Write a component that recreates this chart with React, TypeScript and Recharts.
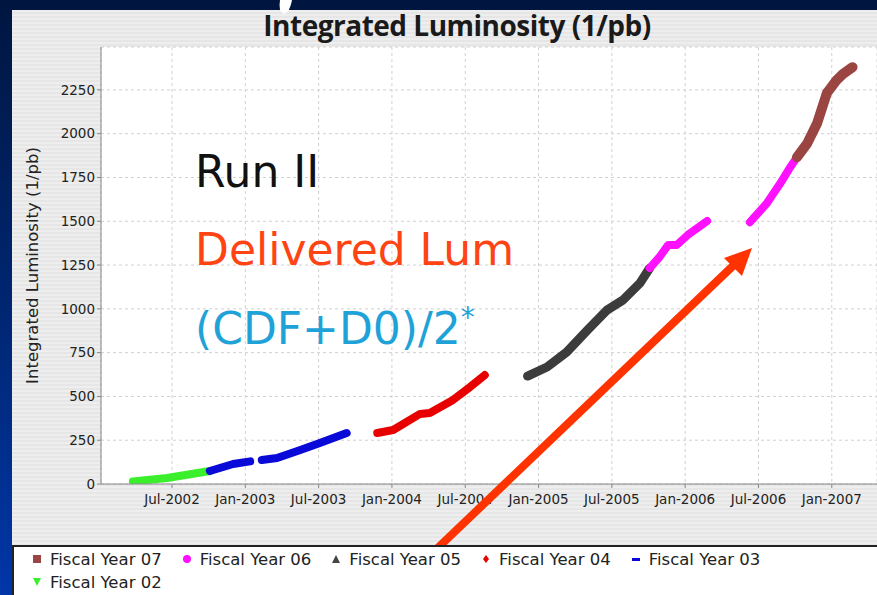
import React from "react";
import { LineChart, Line, XAxis, YAxis, CartesianGrid } from "recharts";

// months counted from Jan-2002 (0 = Jan 1 2002)
const fy02Months = [2.8, 5.6, 9.1];
const fy02Lum = [15, 34, 74];
const fy03Months = [9.1, 11.0, 12.4, 12.85, 13.35, 14.6, 16.5, 18.1, 20.3];
const fy03Lum = [74, 114, 129, null, 137, 148, 194, 234, 291];
const fy04Months = [22.8, 24.1, 26.3, 27.1, 29.0, 30.4, 31.6];
const fy04Lum = [291, 308, 400, 405, 480, 554, 622];
const fy05Months = [35.1, 36.7, 38.3, 40.0, 41.6, 42.9, 44.3, 45.1];
const fy05Lum = [616, 668, 753, 879, 993, 1050, 1147, 1233];
const fy06Months = [45.1, 45.9, 46.6, 47.3, 48.2, 49.0, 49.8, 51.5, 53.3, 54.7, 55.8, 56.6, 57.15];
const fy06Lum = [1233, 1296, 1364, 1364, 1421, 1461, 1501, null, 1495, 1604, 1718, 1809, 1866];
const fy07Months = [57.15, 58.0, 58.8, 59.6, 60.4, 60.9, 61.7];
const fy07Lum = [1866, 1946, 2060, 2232, 2306, 2340, 2380];

const xTicks = [6, 12, 18, 24, 30, 36, 42, 48, 54, 60];
const xTickLabels = ["Jul-2002", "Jan-2003", "Jul-2003", "Jan-2004", "Jul-2004", "Jan-2005", "Jul-2005", "Jan-2006", "Jul-2006", "Jan-2007"];
const yTicks = [0, 250, 500, 750, 1000, 1250, 1500, 1750, 2000, 2250];

const legendNames = ["Fiscal Year 07", "Fiscal Year 06", "Fiscal Year 05", "Fiscal Year 04", "Fiscal Year 03", "Fiscal Year 02"];

const zip = (m: number[], v: (number | null)[]) => m.map((x, i) => ({ m: x, v: v[i] }));

const series = [
  { name: "Fiscal Year 02", data: zip(fy02Months, fy02Lum), color: "#3cef2c", w: 8 },
  { name: "Fiscal Year 03", data: zip(fy03Months, fy03Lum), color: "#0a0ad8", w: 8 },
  { name: "Fiscal Year 04", data: zip(fy04Months, fy04Lum), color: "#e80000", w: 8 },
  { name: "Fiscal Year 05", data: zip(fy05Months, fy05Lum), color: "#3c3c3c", w: 9 },
  { name: "Fiscal Year 06", data: zip(fy06Months, fy06Lum), color: "#ff10ff", w: 8 },
  { name: "Fiscal Year 07", data: zip(fy07Months, fy07Lum), color: "#9a4542", w: 10 },
];

const tickStyle = { fontSize: 13.5, fill: "#222", fontFamily: "'DejaVu Sans', sans-serif" };

function Marker({ idx }: { idx: number }) {
  const c = ["#9a4542", "#ff10ff", "#444", "#e80000", "#0a0ad8", "#3cef2c"][idx];
  let shape;
  if (idx === 0) shape = <rect x={1} y={1} width={8} height={8} fill={c} />;
  else if (idx === 1) shape = <circle cx={5} cy={5} r={4} fill={c} />;
  else if (idx === 2) shape = <polygon points="5,1 9,9 1,9" fill={c} />;
  else if (idx === 3) shape = <polygon points="5,1 8,5 5,9 2,5" fill={c} />;
  else if (idx === 4) shape = <rect x={1} y={4} width={8} height={3} fill={c} />;
  else shape = <polygon points="1,1 9,1 5,9" fill={c} />;
  return <svg width={10} height={10} style={{ marginRight: 8 }}>{shape}</svg>;
}

const overlayFont = "'Comic Sans MS', 'DejaVu Sans', sans-serif";

export default function App() {
  return (
    <div style={{ position: "absolute", left: 0, top: 0, width: 877, height: 595, overflow: "hidden", background: "linear-gradient(180deg, #001640 0%, #00297a 60%, #0036a8 100%)", fontFamily: "'DejaVu Sans', sans-serif" }}>
      <div style={{ position: "absolute", left: 12, top: 10, width: 865, height: 535, background: "repeating-linear-gradient(180deg, #eeeeee 0px, #eeeeee 2px, #e6e6e6 2px, #e6e6e6 4px)" }}>
        <div style={{ position: "absolute", left: 0, width: 890, top: -4, textAlign: "center", fontSize: 28, fontWeight: "bold", color: "#1a1a1a", fontFamily: "'Open Sans', sans-serif", letterSpacing: -0.5 }}>
          Integrated Luminosity (1/pb)
        </div>
        <LineChart width={865} height={535} margin={{ top: 37, right: 0, bottom: 0, left: 0 }}>
          <CartesianGrid fill="#ffffff" stroke="#d0d0d0" strokeDasharray="3 3" />
          <XAxis
            type="number"
            dataKey="m"
            domain={[0.19, 63.7]}
            ticks={xTicks}
            tickFormatter={(v) => xTickLabels[xTicks.indexOf(v)]}
            tick={tickStyle}
            tickSize={4}
            tickMargin={6}
            stroke="#888"
            height={61}
            allowDataOverflow
          />
          <XAxis xAxisId="top" orientation="top" type="number" dataKey="m" domain={[0.19, 63.7]} tick={false} tickLine={false} stroke="#999" height={0} />
          <YAxis
            type="number"
            domain={[0, 2495]}
            ticks={yTicks}
            tick={tickStyle}
            tickSize={4}
            stroke="#888"
            width={89}
            allowDataOverflow
            label={{ value: "Integrated Luminosity (1/pb)", angle: -90, position: "insideLeft", offset: 20, style: { textAnchor: "middle", fontSize: 16.5, fill: "#222", fontFamily: "'DejaVu Sans', sans-serif" } }}
          />
          {series.map((s) => (
            <Line
              key={s.name}
              data={s.data}
              dataKey="v"
              name={s.name}
              type="linear"
              stroke={s.color}
              strokeWidth={s.w}
              strokeLinecap="round"
              strokeLinejoin="round"
              dot={false}
              connectNulls={false}
              isAnimationActive={false}
            />
          ))}
        </LineChart>
      </div>
      <div style={{ position: "absolute", left: 195, top: 146, fontSize: 44, color: "#111", fontFamily: overlayFont, lineHeight: "52px" }}>Run II</div>
      <div style={{ position: "absolute", left: 195, top: 224, fontSize: 44, color: "#ff4414", fontFamily: overlayFont, lineHeight: "52px" }}>Delivered Lum</div>
      <div style={{ position: "absolute", left: 195, top: 303, fontSize: 44, color: "#1ea2d8", fontFamily: overlayFont, lineHeight: "52px" }}>
        (CDF+D0)/2<sup style={{ fontSize: 28, verticalAlign: "top", lineHeight: "30px" }}>*</sup>
      </div>
      <svg width={877} height={595} style={{ position: "absolute", left: 0, top: 0, pointerEvents: "none" }}>
        <line x1={378} y1={605} x2={736} y2={263} stroke="#ff3300" strokeWidth={8} />
        <polygon points="752,248 724,258 742,276" fill="#ff3300" />
        <path d="M280,0 L292,0 Q290,12 284,14 Q278,12 280,0 Z" fill="#ffffff" />
      </svg>
      <div style={{ position: "absolute", left: 12, top: 545, width: 865, height: 50, background: "#fff", borderTop: "2px solid #222", borderLeft: "2px solid #222", boxSizing: "border-box", fontSize: 16.5, color: "#222", fontFamily: "'DejaVu Sans', sans-serif" }}>
        <div style={{ display: "flex", flexWrap: "wrap", paddingLeft: 18, paddingTop: 2, columnGap: 20, rowGap: 3, width: 790 }}>
          {legendNames.map((n, i) => (
            <div key={n} style={{ display: "flex", alignItems: "center", height: 20 }}>
              <Marker idx={i} />
              <span>{n}</span>
            </div>
          ))}
        </div>
      </div>
    </div>
  );
}
